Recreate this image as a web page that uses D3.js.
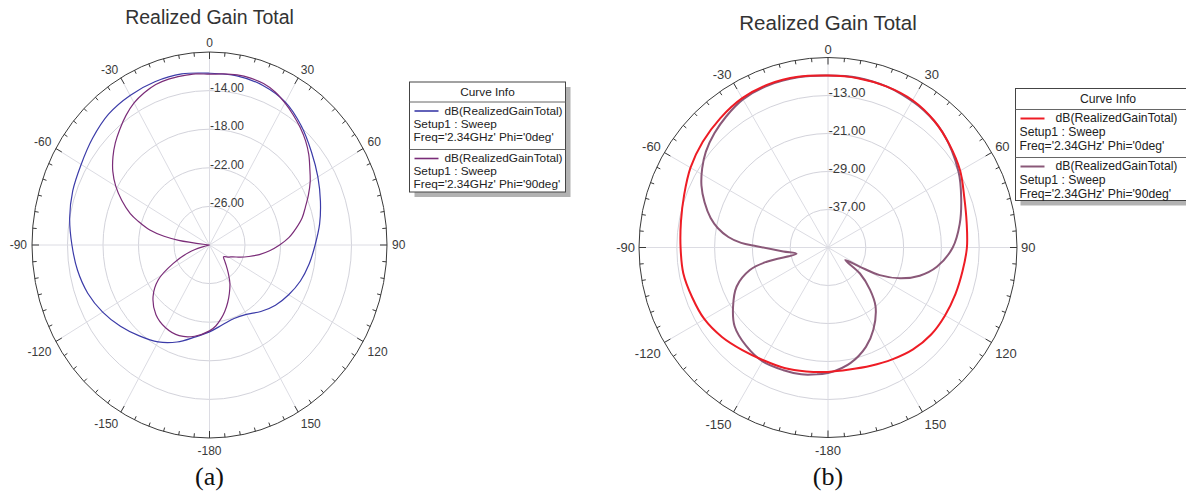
<!DOCTYPE html>
<html>
<head>
<meta charset="utf-8">
<script src="https://cdn.jsdelivr.net/npm/d3@7"></script>
<style>
  html, body { margin: 0; padding: 0; background: #fff; }
  svg { display: block; font-family: "Liberation Sans", Arial, sans-serif; }
</style>
</head>
<body>
<svg id="chart" width="1186" height="500"></svg>
<script>
// ---- angular axis (degrees, clockwise from top) ----
const angleTicks = [0, 30, 60, 90, 120, 150, 180, -150, -120, -90, -60, -30];
const angleTickLabels = ["0", "30", "60", "90", "120", "150", "-180", "-150", "-120", "-90", "-60", "-30"];

// ---- plot (a): radial scale in dB ----
const gainDomainA = [-30, -10];
const ringValuesA = [-26, -22, -18, -14];
const ringLabelsA = ["-26.00", "-22.00", "-18.00", "-14.00"];

// (a) Phi = 0deg
const thetaA0 = [-180, -170, -160, -150, -140, -130, -120, -110, -100, -90, -80, -70, -60, -50, -40, -30, -20, -10,
                 0, 10, 20, 30, 40, 50, 60, 70, 80, 90, 100, 110, 120, 130, 140, 150, 160, 170];
const gainA0 = [-21.0, -20.3, -19.3, -18.4, -17.7, -16.9, -16.1, -15.4, -14.9, -14.5, -14.0, -13.6, -13.3, -12.8, -12.3, -12.1, -12.0, -12.0,
                -12.2, -12.2, -12.4, -12.9, -13.9, -15.0, -15.9, -16.7, -17.4, -18.1, -18.6, -19.1, -19.7, -20.3, -21.0, -21.7, -21.9, -21.6];

// (a) Phi = 90deg
const thetaA90 = [-180, -170, -160, -150, -140, -130, -122, -115, -108, -104, -100, -88, -84, -82, -80, -77, -73, -70, -65, -60,
                  -55, -50, -45, -40, -35, -30, -25, -20, -15, -10, -5, 0, 5, 10, 15, 20, 25, 30, 35, 40,
                  45, 50, 55, 60, 65, 70, 75, 80, 85, 90, 95, 100, 105, 110, 115, 120, 125, 128, 133, 138,
                  144, 150, 156, 161, 166, 170, 175];
const gainA90 = [-21.1, -20.4, -20.0, -20.1, -20.6, -21.7, -23.2, -25.5, -27.6, -29.2, -30.0, -30.0, -29.5, -26.5, -24.8, -23.1, -21.6, -20.5, -19.1, -17.8,
                 -16.7, -15.8, -15.0, -14.3, -13.6, -13.0, -12.6, -12.3, -12.2, -12.2, -12.2, -12.3, -12.2, -12.1, -12.1, -12.2, -12.5, -13.0, -13.55, -14.1,
                 -14.7, -15.4, -16.2, -16.9, -17.7, -18.5, -19.2, -20.1, -21.0, -22.1, -23.2, -24.3, -25.4, -26.3, -27.1, -27.5, -27.9, -28.0, -27.7, -27.2,
                 -26.4, -25.4, -24.5, -23.7, -22.9, -22.3, -21.6];

// ---- plot (b): radial scale in dB ----
const gainDomainB = [-45, -5];
const ringValuesB = [-37, -29, -21, -13];
const ringLabelsB = ["-37.00", "-29.00", "-21.00", "-13.00"];

// (b) Phi = 0deg
const thetaB0 = [-180, -170, -160, -150, -140, -130, -120, -110, -100, -90, -80, -70, -60, -50, -40, -30, -20, -10,
                 0, 10, 20, 30, 40, 50, 60, 70, 80, 90, 100, 110, 120, 130, 140, 150, 160, 170];
const gainB0 = [-18.8, -18.5, -18.0, -17.6, -16.8, -15.7, -14.8, -14.4, -13.9, -13.8, -13.4, -12.6, -11.4, -10.4, -9.5, -8.7, -8.4, -8.5,
                -8.8, -8.8, -8.9, -9.2, -10.1, -11.4, -12.7, -14.3, -15.2, -15.6, -16.1, -16.3, -16.4, -16.5, -17.0, -17.8, -18.5, -18.9];

// (b) Phi = 90deg
const thetaB90 = [-180, -175, -168, -160, -150, -140, -130, -122, -113, -106, -103, -101, -95, -89, -87, -84, -80, -76, -70, -64,
                  -58, -52, -45, -38, -30, -20, -10, 0, 10, 20, 26, 35, 45, 60, 70, 80, 90, 100, 107, 113,
                  118, 121, 126, 129, 135, 141, 151, 159, 169, 178];
const gainB90 = [-18.6, -18.2, -17.7, -17.5, -17.3, -18.0, -19.2, -21.3, -24.0, -27.8, -31.7, -38.2, -35.5, -29.9, -26.6, -23.8, -21.3, -19.4, -17.2, -15.2,
                 -13.6, -12.2, -11.0, -10.0, -9.0, -8.6, -8.6, -8.8, -8.7, -8.9, -9.2, -9.7, -10.7, -13.1, -15.0, -16.7, -18.6, -21.6, -24.7, -28.4,
                 -32.6, -37.1, -40.5, -36.3, -32.4, -29.0, -25.2, -22.6, -20.2, -18.8];

const legendTitle = "Curve Info";
const curveName = "dB(RealizedGainTotal)";
const setupName = "Setup1 : Sweep";
const freqLabels = ["Freq='2.34GHz' Phi='0deg'", "Freq='2.34GHz' Phi='90deg'"];

const svg = d3.select("#chart");

function polarPlot(o) {
  const g = svg.append("g");
  const rScale = d3.scaleLinear().domain(o.domain).range([0, 1]).clamp(true);
  const rad = d => d * Math.PI / 180;
  const point = (deg, v) => {
    const k = rScale(v), t = rad(deg);
    return [o.cx + o.rx * k * Math.sin(t), o.cy - o.ry * k * Math.cos(t)];
  };

  // title
  g.append("text").attr("x", o.cx).attr("y", o.titleY)
    .attr("text-anchor", "middle").attr("font-size", o.titleSize).attr("fill", "#333")
    .text("Realized Gain Total");

  // rings
  g.selectAll("ellipse.ring").data(o.rings).join("ellipse")
    .attr("class", "ring")
    .attr("cx", o.cx).attr("cy", o.cy)
    .attr("rx", d => o.rx * rScale(d)).attr("ry", d => o.ry * rScale(d))
    .attr("fill", "none").attr("stroke", "#d3d3db").attr("stroke-width", 1);

  // spokes
  g.selectAll("line.spoke").data(angleTicks).join("line")
    .attr("class", "spoke")
    .attr("x1", o.cx).attr("y1", o.cy)
    .attr("x2", d => point(d, o.domain[1])[0]).attr("y2", d => point(d, o.domain[1])[1])
    .attr("stroke", "#dcdce3").attr("stroke-width", 1);

  // outer boundary
  g.append("ellipse").attr("cx", o.cx).attr("cy", o.cy).attr("rx", o.rx).attr("ry", o.ry)
    .attr("fill", "none").attr("stroke", "#3a3a3a").attr("stroke-width", 1);

  // boundary ticks every 5 degrees, longer every 30
  const tickAngles = d3.range(0, 360, 5);
  g.selectAll("line.tick").data(tickAngles).join("line")
    .attr("class", "tick")
    .each(function (d) {
      const len = d % 30 === 0 ? 7 : 4;
      const t = rad(d);
      d3.select(this)
        .attr("x1", o.cx + o.rx * Math.sin(t)).attr("y1", o.cy - o.ry * Math.cos(t))
        .attr("x2", o.cx + (o.rx - len) * Math.sin(t)).attr("y2", o.cy - (o.ry - len) * Math.cos(t));
    })
    .attr("stroke", "#3a3a3a").attr("stroke-width", 1);

  // angle labels
  g.selectAll("text.ang").data(angleTicks).join("text")
    .attr("class", "ang")
    .each(function (d, i) {
      const t = rad(d), s = Math.sin(t), c = Math.cos(t);
      const x = o.cx + (o.rx + o.labelOff) * s;
      const y = o.cy - (o.ry + o.labelOff) * c;
      d3.select(this)
        .attr("x", x).attr("y", y)
        .attr("text-anchor", Math.abs(s) < 0.01 ? "middle" : (s > 0 ? "start" : "end"))
        .attr("dy", c > 0.01 ? "0" : (c < -0.01 ? "1em" : "0.35em"))
        .text(angleTickLabels[i]);
    })
    .attr("font-size", o.fontSize).attr("fill", "#3a3a3a");

  // ring value labels along the 0 deg spoke
  g.selectAll("text.ringlab").data(o.rings).join("text")
    .attr("class", "ringlab")
    .attr("x", o.cx + 0.5)
    .attr("y", d => point(0, d)[1] + 1)
    .attr("font-size", o.fontSize).attr("fill", "#3a3a3a")
    .text((d, i) => o.ringLabels[i]);

  // curves
  const line = d3.line().curve(d3.curveCatmullRomClosed.alpha(0.5));
  o.series.forEach(s => {
    const pts = s.theta.map((th, i) => point(th, s.gain[i]));
    g.append("path").attr("d", line(pts))
      .attr("fill", "none").attr("stroke", s.color).attr("stroke-width", s.width)
      .attr("stroke-linejoin", "round");
  });

  // caption
  g.append("text").attr("x", o.cx).attr("y", o.captionY)
    .attr("text-anchor", "middle").attr("font-size", 26)
    .attr("font-family", "'Liberation Serif', 'Times New Roman', serif").attr("fill", "#111")
    .text(o.caption);
}

function legend(o) {
  const g = svg.append("g").attr("font-size", o.fontSize).attr("fill", "#222");
  g.append("rect").attr("x", o.x + 5).attr("y", o.y + 5).attr("width", o.w).attr("height", o.h).attr("fill", "#b2b2b2");
  g.append("rect").attr("x", o.x).attr("y", o.y).attr("width", o.w).attr("height", o.h)
    .attr("fill", "#fff").attr("stroke", "#444").attr("stroke-width", 1);
  g.append("text").attr("x", o.x + o.w / 2).attr("y", o.y + o.headerBase).attr("text-anchor", "middle").text(legendTitle);
  g.append("line").attr("x1", o.x).attr("x2", o.x + o.w).attr("y1", o.y + o.headerLine).attr("y2", o.y + o.headerLine)
    .attr("stroke", "#666");
  o.entries.forEach((e, i) => {
    const top = o.y + o.headerLine + i * o.entryH;
    if (i > 0) {
      g.append("line").attr("x1", o.x).attr("x2", o.x + o.w).attr("y1", top).attr("y2", top).attr("stroke", "#666");
    }
    g.append("line").attr("x1", o.x + 5).attr("x2", o.x + 29).attr("y1", top + o.row1 - 3.5).attr("y2", top + o.row1 - 3.5)
      .attr("stroke", e.color).attr("stroke-width", o.sw);
    g.append("text").attr("x", o.x + o.nameX).attr("y", top + o.row1).text(curveName);
    g.append("text").attr("x", o.x + 4).attr("y", top + o.row1 + o.lineH).text(setupName);
    g.append("text").attr("x", o.x + 4).attr("y", top + o.row1 + 2 * o.lineH).text(freqLabels[i]);
  });
}

const blueA = "#3b3ba8", purpleA = "#7a2c78", redB = "#ee1c25", purpleB = "#8a5878";

polarPlot({
  cx: 209.5, cy: 245, rx: 177.5, ry: 193, domain: gainDomainA,
  rings: ringValuesA, ringLabels: ringLabelsA,
  fontSize: 12, labelOff: 5, titleY: 23.5, titleSize: 19.5, captionY: 485, caption: "(a)",
  series: [
    { theta: thetaA0, gain: gainA0, color: blueA, width: 1.2 },
    { theta: thetaA90, gain: gainA90, color: purpleA, width: 1.2 }
  ]
});

polarPlot({
  cx: 828, cy: 247.5, rx: 189, ry: 190, domain: gainDomainB,
  rings: ringValuesB, ringLabels: ringLabelsB,
  fontSize: 13, labelOff: 4, titleY: 29.5, titleSize: 20.5, captionY: 485, caption: "(b)",
  series: [
    { theta: thetaB90, gain: gainB90, color: purpleB, width: 2 },
    { theta: thetaB0, gain: gainB0, color: redB, width: 2 }
  ]
});

legend({
  x: 409.5, y: 82, w: 156, h: 110, fontSize: 11.8, headerBase: 14, headerLine: 20, entryH: 47.5,
  row1: 12.5, lineH: 13, nameX: 35, sw: 1.6,
  entries: [{ color: blueA }, { color: purpleA }]
});

legend({
  x: 1015.5, y: 88.5, w: 185, h: 112, fontSize: 12.2, headerBase: 14.5, headerLine: 21, entryH: 48,
  row1: 12.5, lineH: 14, nameX: 40, sw: 2,
  entries: [{ color: redB }, { color: purpleB }]
});
</script>
</body>
</html>
